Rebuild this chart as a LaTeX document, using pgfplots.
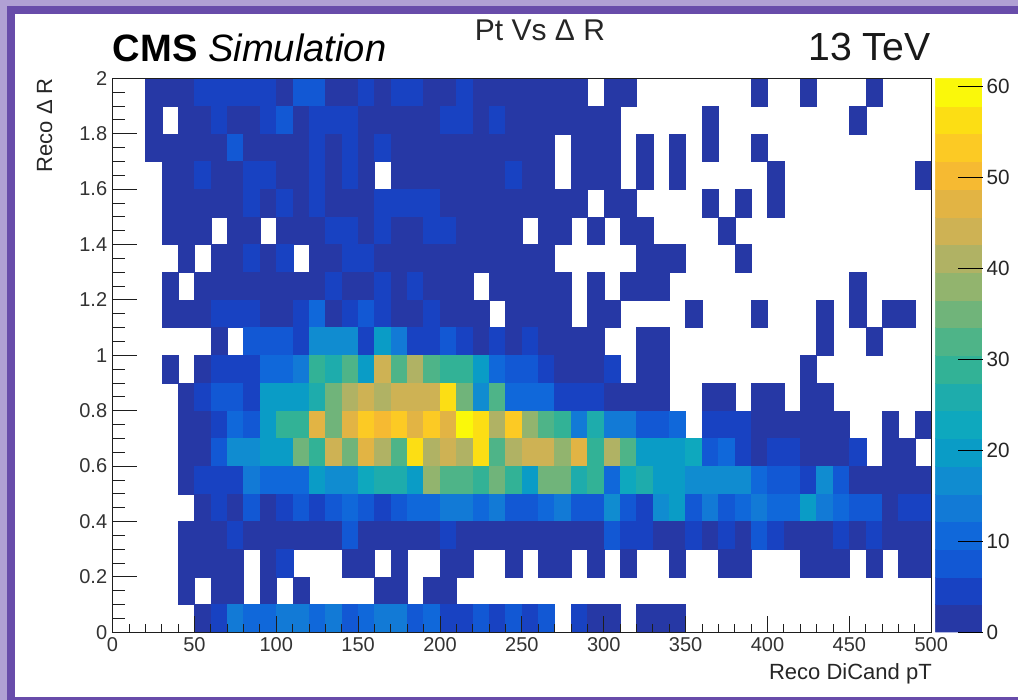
\documentclass[border=0pt]{standalone}
\usepackage{fontspec}
\setmainfont{Liberation Sans}
\usepackage{pgfplots}
\pgfplotsset{compat=1.18}
\pgfdeclareplotmark{cell}{%
  \pgfpathrectangle{\pgfpoint{-6.14pt}{-10.39pt}}{\pgfpoint{12.28pt}{20.78pt}}%
  \pgfusepathqfillstroke}
\newcommand\cellrow[2]{\addplot[scatter,only marks,mark=cell,line width=0.2pt,
  scatter/use mapped color={draw=mapped color,fill=mapped color},point meta=explicit]
  table[row sep=crcr,header=false,x index=0,y expr=#1,meta index=1]{#2};}
\definecolor{lightpurple}{RGB}{176,160,212}
\definecolor{darkpurple}{RGB}{104,76,170}
\definecolor{axgray}{RGB}{30,30,30}
\begin{document}
\begin{tikzpicture}
\path[use as bounding box] (0,0) rectangle (763.5pt,525pt);
\fill[white] (0,0) rectangle (763.5pt,525pt);
\fill[lightpurple] (0,0) rectangle (5.25pt,525pt);
\fill[lightpurple] (0,520.5pt) rectangle (763.5pt,525pt);
\fill[darkpurple] (5.25pt,0) rectangle (11.25pt,520.5pt);
\fill[darkpurple] (5.25pt,514.5pt) rectangle (763.5pt,520.5pt);
\fill[darkpurple] (5.25pt,0) rectangle (763.5pt,2.2pt);
\begin{axis}[
  at={(84.4pt,50.8pt)},anchor=south west,
  scale only axis,width=614pt,height=415.5pt,
  xmin=0,xmax=500,ymin=0,ymax=2,
  xtick=\empty,ytick={0,0.2,...,2.01},
  yticklabels={0,0.2,0.4,0.6,0.8,1,1.2,1.4,1.6,1.8,2},
  minor y tick num=3,
  tick pos=left,tick align=inside,
  axis line style={axgray,line width=0.6pt},
  every tick/.style={axgray,line width=0.6pt},
  major tick length=18.5pt,minor tick length=9.2pt,
  /pgf/number format/assume math mode=true,
  ticklabel style={font=\fontsize{15}{15}\selectfont,text=black!80},
  yticklabel style={xshift=-0.5pt},
  axis on top,
  colormap={bird}{
    rgb255=(38,56,165) rgb255=(24,66,194) rgb255=(18,88,212) rgb255=(16,104,218) rgb255=(18,122,214)
    rgb255=(16,140,208) rgb255=(10,156,198) rgb255=(14,168,190) rgb255=(30,172,172) rgb255=(50,178,150)
    rgb255=(78,180,136) rgb255=(112,180,122) rgb255=(146,180,110) rgb255=(176,178,100) rgb255=(206,178,84)
    rgb255=(226,180,68) rgb255=(246,186,50) rgb255=(252,202,36) rgb255=(252,222,20) rgb255=(250,248,10)},
  colormap access=piecewise constant,
  point meta min=0,point meta max=60.9,
  colorbar sampled,
  colorbar,
  colorbar style={
    samples=21,
    at={(parent axis.south east)},anchor=south west,xshift=-5.5pt,
    width=35.5pt,height=415.5pt,
    ytick={0,10,...,60},
    yticklabel pos=right,ytick pos=right,
    tick align=inside,
    major tick length=18.5pt,
    every tick/.style={black,line width=0.6pt},
    axis line style={draw=none},
    /pgf/number format/assume math mode=true,
    yticklabel style={font=\fontsize{15.5}{15.5}\selectfont,text=black!85,xshift=-0.5pt},
  },
]
\cellrow{1.95}{25 1\\35 1\\45 1\\55 4\\65 4\\75 4\\85 4\\95 4\\105 1\\115 7\\125 7\\135 1\\145 1\\155 4\\165 1\\175 4\\185 4\\195 1\\205 1\\215 4\\225 1\\235 1\\245 1\\255 1\\265 1\\275 1\\285 1\\305 1\\315 1\\395 1\\425 1\\465 1\\}
\cellrow{1.85}{25 1\\45 1\\55 1\\65 4\\75 1\\85 1\\95 4\\105 7\\115 1\\125 4\\135 4\\145 4\\155 1\\165 1\\175 1\\185 1\\195 1\\205 4\\215 4\\225 1\\235 4\\245 1\\255 1\\265 1\\275 1\\285 1\\295 1\\305 1\\365 1\\455 1\\}
\cellrow{1.75}{25 1\\35 1\\45 1\\55 1\\65 1\\75 7\\85 1\\95 1\\105 1\\115 1\\125 4\\135 1\\145 4\\155 1\\165 4\\175 1\\185 1\\195 1\\205 1\\215 1\\225 1\\235 1\\245 1\\255 1\\265 1\\285 1\\295 1\\305 1\\325 1\\345 1\\365 1\\395 1\\}
\cellrow{1.65}{35 1\\45 1\\55 4\\65 1\\75 1\\85 4\\95 4\\105 1\\115 1\\125 4\\135 1\\145 4\\155 1\\175 1\\185 1\\195 1\\205 1\\215 1\\225 1\\235 1\\245 4\\255 1\\265 1\\285 1\\295 1\\305 1\\325 1\\345 1\\405 1\\495 1\\}
\cellrow{1.55}{35 1\\45 1\\55 1\\65 1\\75 1\\85 4\\95 1\\105 4\\115 1\\125 4\\135 1\\145 1\\155 1\\165 4\\175 4\\185 4\\195 4\\205 1\\215 1\\225 1\\235 1\\245 1\\255 1\\265 1\\275 1\\285 1\\305 1\\315 1\\365 1\\385 1\\405 1\\}
\cellrow{1.45}{35 1\\45 1\\55 1\\75 1\\85 1\\105 1\\115 1\\125 1\\135 4\\145 4\\155 1\\165 4\\175 1\\185 1\\195 4\\205 4\\215 1\\225 1\\235 1\\245 1\\265 1\\275 1\\295 1\\315 1\\325 1\\375 1\\}
\cellrow{1.35}{45 1\\65 1\\75 1\\85 4\\95 1\\105 4\\125 1\\135 1\\145 4\\155 4\\165 1\\175 1\\185 1\\195 1\\205 1\\215 1\\225 1\\235 1\\245 1\\255 1\\265 1\\325 1\\335 1\\345 1\\385 1\\}
\cellrow{1.25}{35 1\\55 1\\65 1\\75 1\\85 1\\95 1\\105 1\\115 1\\125 1\\135 4\\145 1\\155 1\\165 4\\175 1\\185 4\\195 1\\205 1\\215 1\\235 1\\245 1\\255 1\\265 1\\275 1\\295 1\\315 1\\325 1\\335 1\\455 1\\}
\cellrow{1.15}{35 1\\45 1\\55 1\\65 4\\75 4\\85 4\\95 1\\105 1\\115 4\\125 10\\135 1\\145 4\\155 7\\165 4\\175 1\\185 1\\195 4\\205 1\\215 1\\225 1\\245 1\\255 1\\265 1\\275 1\\295 1\\305 1\\355 1\\395 1\\435 1\\455 1\\475 1\\485 1\\}
\cellrow{1.05}{65 1\\85 7\\95 7\\105 7\\115 4\\125 16\\135 16\\145 16\\155 4\\165 20\\175 13\\185 4\\195 4\\205 7\\215 4\\225 1\\235 4\\245 1\\255 4\\265 1\\275 1\\285 1\\295 1\\325 1\\335 1\\435 1\\465 1\\}
\cellrow{0.95}{35 1\\55 1\\65 4\\75 4\\85 4\\95 10\\105 10\\115 13\\125 29\\135 26\\145 32\\155 20\\165 44\\175 32\\185 41\\195 32\\205 29\\215 29\\225 20\\235 10\\245 7\\255 7\\265 4\\275 1\\285 1\\295 1\\305 4\\325 1\\335 1\\425 1\\}
\cellrow{0.85}{45 1\\55 4\\65 7\\75 7\\85 4\\95 20\\105 20\\115 20\\125 26\\135 35\\145 41\\155 44\\165 41\\175 44\\185 44\\195 44\\205 56\\215 35\\225 16\\235 32\\245 10\\255 10\\265 10\\275 4\\285 4\\295 4\\305 1\\315 1\\325 1\\335 1\\365 1\\375 1\\395 1\\405 1\\425 1\\435 1\\}
\cellrow{0.75}{45 1\\55 1\\65 4\\75 10\\85 7\\95 20\\105 29\\115 29\\125 47\\135 35\\145 47\\155 53\\165 50\\175 53\\185 47\\195 53\\205 47\\215 59\\225 56\\235 41\\245 53\\255 38\\265 32\\275 29\\285 13\\295 26\\305 13\\315 13\\325 7\\335 7\\345 10\\365 4\\375 4\\385 4\\395 1\\405 1\\415 1\\425 1\\435 1\\445 1\\475 1\\495 1\\}
\cellrow{0.65}{45 1\\55 1\\65 7\\75 16\\85 16\\95 20\\105 20\\115 35\\125 29\\135 44\\145 35\\155 47\\165 41\\175 32\\185 56\\195 41\\205 44\\215 41\\225 56\\235 32\\245 41\\255 44\\265 44\\275 38\\285 47\\295 29\\305 41\\315 32\\325 20\\335 20\\345 20\\355 23\\365 7\\375 10\\385 4\\395 1\\405 4\\415 4\\425 1\\435 1\\445 1\\455 4\\475 1\\485 1\\}
\cellrow{0.55}{45 1\\55 4\\65 4\\75 4\\85 13\\95 10\\105 10\\115 10\\125 20\\135 16\\145 16\\155 23\\165 26\\175 26\\185 20\\195 38\\205 32\\215 32\\225 29\\235 35\\245 29\\255 20\\265 35\\275 35\\285 26\\295 29\\305 10\\315 23\\325 26\\335 20\\345 20\\355 16\\365 16\\375 16\\385 16\\395 10\\405 7\\415 7\\425 4\\435 16\\445 7\\455 1\\465 1\\475 1\\485 1\\495 1\\}
\cellrow{0.45}{55 1\\65 4\\75 1\\85 7\\95 1\\105 4\\115 7\\125 4\\135 7\\145 10\\155 7\\165 4\\175 7\\185 10\\195 10\\205 13\\215 13\\225 10\\235 13\\245 7\\255 7\\265 10\\275 13\\285 7\\295 7\\305 16\\315 7\\325 4\\335 16\\345 20\\355 7\\365 13\\375 7\\385 10\\395 13\\405 10\\415 10\\425 20\\435 13\\445 10\\455 7\\465 7\\475 1\\485 4\\495 4\\}
\cellrow{0.35}{45 1\\55 1\\65 1\\75 4\\85 1\\95 1\\105 1\\115 1\\125 1\\135 1\\145 7\\155 1\\165 1\\175 1\\185 1\\195 1\\205 4\\215 1\\225 1\\235 1\\245 1\\255 1\\265 1\\275 1\\285 1\\295 1\\305 7\\315 4\\325 4\\335 1\\345 1\\355 4\\365 1\\375 4\\385 1\\395 7\\405 4\\415 1\\425 1\\435 1\\445 4\\455 1\\465 4\\475 1\\485 1\\495 1\\}
\cellrow{0.25}{45 1\\55 1\\65 1\\75 1\\95 1\\105 4\\145 1\\155 1\\175 1\\205 1\\215 1\\245 1\\265 1\\275 1\\295 1\\315 1\\345 1\\375 1\\385 1\\425 1\\435 1\\445 1\\465 1\\485 1\\495 1\\}
\cellrow{0.15}{45 1\\65 1\\75 1\\95 1\\115 1\\165 1\\175 1\\195 1\\205 1\\}
\cellrow{0.05}{55 1\\65 4\\75 13\\85 10\\95 10\\105 13\\115 13\\125 10\\135 13\\145 7\\155 10\\165 13\\175 13\\185 7\\195 10\\205 4\\215 4\\225 7\\235 4\\245 7\\255 4\\265 7\\285 4\\295 1\\305 1\\325 1\\335 1\\345 1\\}
\end{axis}
\begin{axis}[
  at={(84.4pt,50.8pt)},anchor=south west,
  scale only axis,width=614pt,height=415.5pt,
  xmin=0,xmax=500,ymin=0,ymax=2,
  xtick={0,50,...,500},ytick=\empty,
  minor x tick num=4,
  xtick pos=bottom,tick align=inside,
  axis line style={axgray,line width=0.6pt},
  every tick/.style={axgray,line width=0.6pt},
  major tick length=12pt,minor tick length=6pt,
  /pgf/number format/assume math mode=true,
  ticklabel style={font=\fontsize{15}{15}\selectfont,text=black!80},
  xticklabel style={yshift=-0.5pt},
]
\end{axis}
\node[anchor=base west,inner sep=0pt,font=\fontsize{28.6}{28.6}\selectfont] at (84.5pt,478.5pt) {\textbf{CMS} \textit{Simulation}};
\node[anchor=base east,inner sep=0pt,font=\fontsize{29.4}{29.4}\selectfont,text=black!90] at (698pt,479.5pt) {13 TeV};
\node[anchor=base,inner sep=0pt,font=\fontsize{22.5}{22.5}\selectfont,text=black!85] at (405pt,494.5pt) {Pt Vs Δ R};
\node[anchor=base east,inner sep=0pt,font=\fontsize{16.5}{16.5}\selectfont,text=black!85] at (699pt,15pt) {Reco DiCand pT};
\node[anchor=base east,rotate=90,inner sep=0pt,font=\fontsize{16.5}{16.5}\selectfont,text=black!85] at (39pt,466.5pt) {Reco Δ R};
\end{tikzpicture}
\end{document}
